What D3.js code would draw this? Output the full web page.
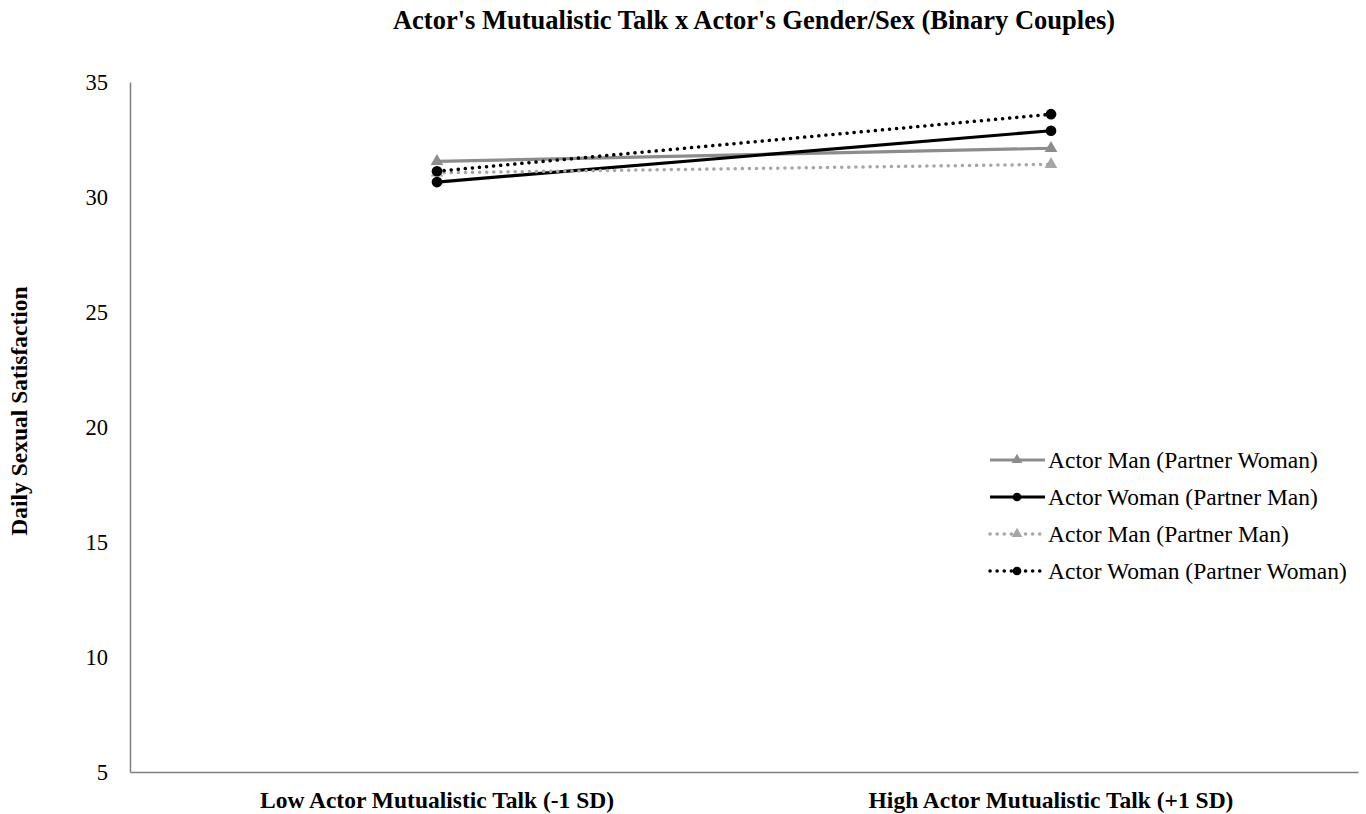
<!DOCTYPE html>
<html><head><meta charset="utf-8">
<script src="https://cdn.jsdelivr.net/npm/d3@7"></script>
<style>body{margin:0;background:#fff}svg{display:block}text{font-family:"Liberation Serif","Times New Roman",serif}</style>
</head><body><svg id="c" width="1366" height="814"></svg>
<script>
const categories = ["Low Actor Mutualistic Talk (-1 SD)", "High Actor Mutualistic Talk (+1 SD)"];
const seriesNames = ["Actor Man (Partner Woman)", "Actor Woman (Partner Man)", "Actor Man (Partner Man)", "Actor Woman (Partner Woman)"];
const manWoman = [31.55, 32.12];
const womanMan = [30.65, 32.88];
const manMan = [31.05, 31.42];
const womanWoman = [31.12, 33.6];
const yTicks = [5, 10, 15, 20, 25, 30, 35];

const series = [
  {name: seriesNames[0], values: manWoman, color: "#8c8c8c", dash: null, marker: "triangle"},
  {name: seriesNames[1], values: womanMan, color: "#000000", dash: null, marker: "circle"},
  {name: seriesNames[2], values: manMan, color: "#a6a6a6", dash: "0.1,7", marker: "triangle"},
  {name: seriesNames[3], values: womanWoman, color: "#000000", dash: "0.1,7", marker: "circle"}
];

const svg = d3.select("#c");
const m = {l: 130, r: 1358, t: 82, b: 772};
const x = d3.scaleBand().domain(categories).range([m.l, m.r]);
const y = d3.scaleLinear().domain([5, 35]).range([m.b, m.t]);

svg.append("text").attr("x", 754).attr("y", 29).attr("text-anchor", "middle")
  .attr("font-size", 26.5).attr("font-weight", "bold")
  .text("Actor's Mutualistic Talk x Actor's Gender/Sex (Binary Couples)");

const ya = svg.append("g").attr("transform", `translate(${m.l},0)`)
  .call(d3.axisLeft(y).tickValues(yTicks).tickSize(0).tickPadding(22));
ya.select(".domain").attr("stroke", "#7f7f7f").attr("stroke-width", 1.5);
ya.selectAll("text").attr("font-size", 22.5).attr("font-family", "Liberation Serif").attr("fill", "#000");

const xa = svg.append("g").attr("transform", `translate(0,${m.b})`)
  .call(d3.axisBottom(x).tickSize(0).tickPadding(19));
xa.select(".domain").attr("stroke", "#7f7f7f").attr("stroke-width", 1.5);
xa.selectAll("text").attr("font-size", 23.5).attr("font-weight", "bold").attr("font-family", "Liberation Serif").attr("fill", "#000");

svg.append("text").attr("transform", "translate(27,411) rotate(-90)").attr("text-anchor", "middle")
  .attr("font-size", 23.5).attr("font-weight", "bold").text("Daily Sexual Satisfaction");

const cx = d => x(d) + x.bandwidth() / 2;
const tri = d3.symbol().type(d3.symbolTriangle).size(70);
const circ = d3.symbol().type(d3.symbolCircle).size(90);

series.forEach(s => {
  const pts = categories.map((c, i) => [cx(c), y(s.values[i])]);
  svg.append("path").attr("d", d3.line()(pts)).attr("fill", "none")
    .attr("stroke", s.color).attr("stroke-width", s.dash ? 3.5 : 3.2)
    .attr("stroke-linecap", s.dash ? "round" : "butt")
    .attr("stroke-dasharray", s.dash);
  svg.selectAll(null).data(pts).enter().append("path")
    .attr("d", s.marker === "triangle" ? tri : circ)
    .attr("transform", d => `translate(${d[0]},${d[1]})`)
    .attr("fill", s.color);
});

const lg = svg.append("g");
series.forEach((s, i) => {
  const yy = 460 + i * 37;
  lg.append("line").attr("x1", 990).attr("x2", 1045).attr("y1", yy).attr("y2", yy)
    .attr("stroke", s.color).attr("stroke-width", s.dash ? 3.5 : 3.2)
    .attr("stroke-linecap", s.dash ? "round" : "butt").attr("stroke-dasharray", s.dash);
  lg.append("path").attr("d", s.marker === "triangle" ? d3.symbol().type(d3.symbolTriangle).size(50) : d3.symbol().type(d3.symbolCircle).size(60))
    .attr("transform", `translate(1017,${yy})`).attr("fill", s.color);
  lg.append("text").attr("x", 1048).attr("y", yy).attr("dy", "0.35em")
    .attr("font-size", 23.5).text(s.name);
});
</script></body></html>
